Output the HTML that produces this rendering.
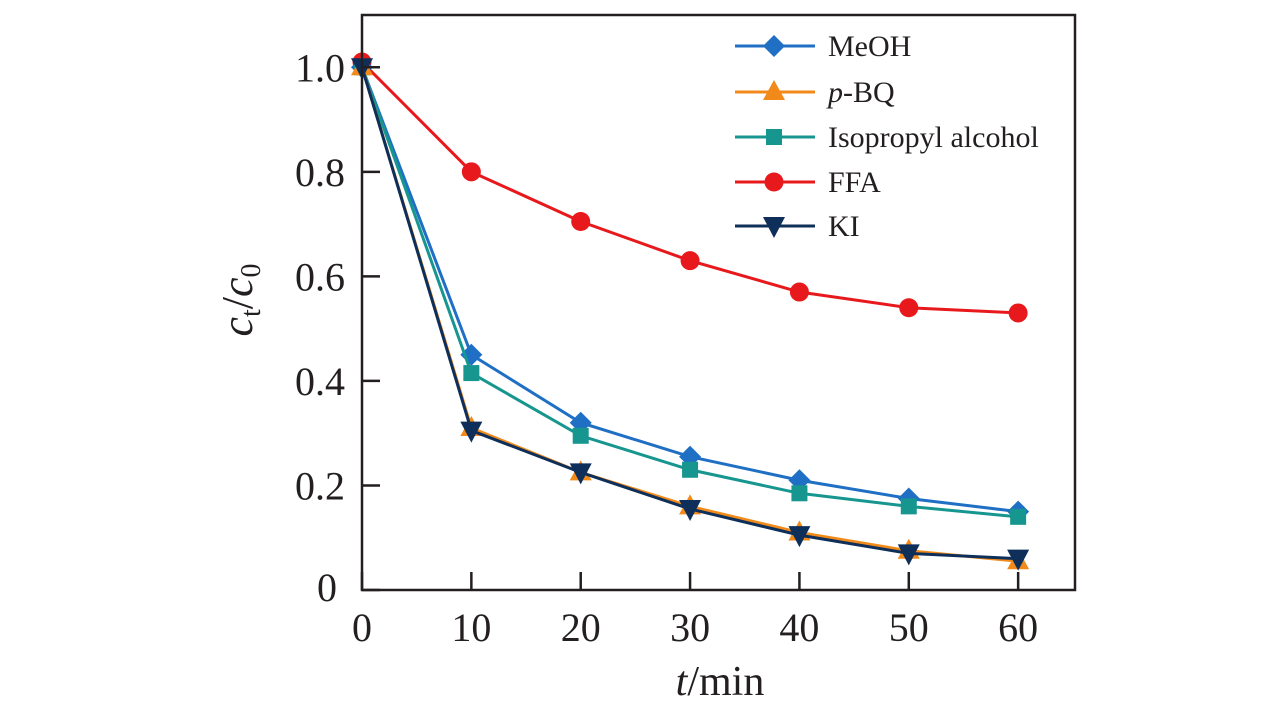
<!DOCTYPE html>
<html><head><meta charset="utf-8"><style>
body{margin:0;background:#fff;}
svg{display:block;font-family:"Liberation Serif",serif;}
</style></head><body>
<svg id="chart" width="1283" height="709" viewBox="0 0 1283 709" xmlns="http://www.w3.org/2000/svg"></svg>
<script>
const xValues=[0,10,20,30,40,50,60];
const meohValues=[1,0.45,0.32,0.255,0.21,0.175,0.15];
const pbqValues=[1,0.31,0.225,0.16,0.11,0.075,0.055];
const ipaValues=[1,0.415,0.295,0.23,0.185,0.16,0.14];
const ffaValues=[1.01,0.80,0.705,0.63,0.57,0.54,0.53];
const kiValues=[1,0.305,0.225,0.155,0.105,0.07,0.06];
const xTicks=[0,10,20,30,40,50,60];
const yTicks=[0,0.2,0.4,0.6,0.8,1.0];
const yTickLabels=["0","0.2","0.4","0.6","0.8","1.0"];
const seriesNames=["MeOH","p-BQ","Isopropyl alcohol","FFA","KI"];

const L=362,R=1075,T=15,B=590;
const sx=v=>L+v*(R-L)/65.2;
const sy=v=>B-v*(B-T)/1.1;
const svg=document.getElementById('chart');
const NS='http://www.w3.org/2000/svg';
function mk(tag,attrs,parent){const e=document.createElementNS(NS,tag);for(const k in attrs)e.setAttribute(k,attrs[k]);(parent||svg).appendChild(e);return e;}

function marker(type,x,y,color,g){
  let e;
  if(type==='diamond') e=mk('polygon',{points:`${x},${y-11} ${x+11},${y} ${x},${y+11} ${x-11},${y}`,fill:color},g);
  else if(type==='up') e=mk('polygon',{points:`${x},${y-12} ${x+11},${y+8} ${x-11},${y+8}`,fill:color},g);
  else if(type==='square') e=mk('rect',{x:x-8,y:y-8,width:16,height:16,fill:color},g);
  else if(type==='circle') e=mk('circle',{cx:x,cy:y,r:9.5,fill:color},g);
  else e=mk('polygon',{points:`${x-11},${y-9} ${x+11},${y-9} ${x},${y+12}`,fill:color},g);
  return e;
}
const series=[
 {vals:meohValues,color:'#1f6fc5',m:'diamond',key:'meoh'},
 {vals:pbqValues,color:'#f28a1a',m:'up',key:'pbq'},
 {vals:ipaValues,color:'#17968f',m:'square',key:'ipa'},
 {vals:ffaValues,color:'#e8191c',m:'circle',key:'ffa'},
 {vals:kiValues,color:'#0e2f5a',m:'down',key:'ki'}
];
const drawOrder=[3,0,2,1,4];
drawOrder.forEach(i=>{
  const s=series[i];
  const g=mk('g',{});
  
  
  const line=mk('polyline',{points:s.vals.map((v,j)=>sx(xValues[j])+','+sy(v)).join(' '),fill:'none',stroke:s.color,'stroke-width':3},g);
  
  
  s.vals.forEach((v,j)=>{
    const p=marker(s.m,sx(xValues[j]),sy(v),s.color,g);
    
    
  });
});
const frame=mk('rect',{x:L,y:T,width:R-L,height:B-T,fill:'none',stroke:'#231f20','stroke-width':2.5});


xTicks.forEach(v=>{
  const t=mk('line',{x1:sx(v),x2:sx(v),y1:B,y2:B-18,stroke:'#231f20','stroke-width':2.5});
  
  
  const l=mk('text',{x:sx(v),y:641,'font-size':40,'text-anchor':'middle',fill:'#231f20'});
  l.textContent=v;
  
  
});
yTicks.forEach((v,i)=>{
  const t=mk('line',{x1:L,x2:L+18,y1:sy(v),y2:sy(v),stroke:'#231f20','stroke-width':2.5});
  
  
  const l=mk('text',{x:i===0?337:345,y:sy(v)+14 - (i===0?3:0),'font-size':40,'text-anchor':'end',fill:'#231f20'});
  l.textContent=yTickLabels[i];
  
  
});
const xt=mk('text',{x:720,y:695,'font-size':42,'text-anchor':'middle',fill:'#231f20'});
xt.innerHTML='<tspan font-style="italic">t</tspan>/min';


const yt=mk('text',{transform:'translate(252,300) rotate(-90)','font-size':44,'text-anchor':'middle',fill:'#231f20'});
yt.innerHTML='<tspan font-style="italic">c</tspan><tspan font-size="28" dy="8">t</tspan><tspan dy="-8">/</tspan><tspan font-style="italic">c</tspan><tspan font-size="28" dy="8">0</tspan>';


const lg=mk('g',{});


const rowsY=[46,92,137,182,226];
series.forEach((s,i)=>{
  const g=mk('g',{},lg);
  
  
  mk('line',{x1:735,x2:815,y1:rowsY[i],y2:rowsY[i],stroke:s.color,'stroke-width':3},g);
  marker(s.m,774,rowsY[i],s.color,g);
  const t=mk('text',{x:828,y:rowsY[i]+10,'font-size':30,fill:'#231f20'},g);
  if(i===1) t.innerHTML='<tspan font-style="italic">p</tspan>-BQ';
  else t.textContent=seriesNames[i];
});
</script>
</body></html>
